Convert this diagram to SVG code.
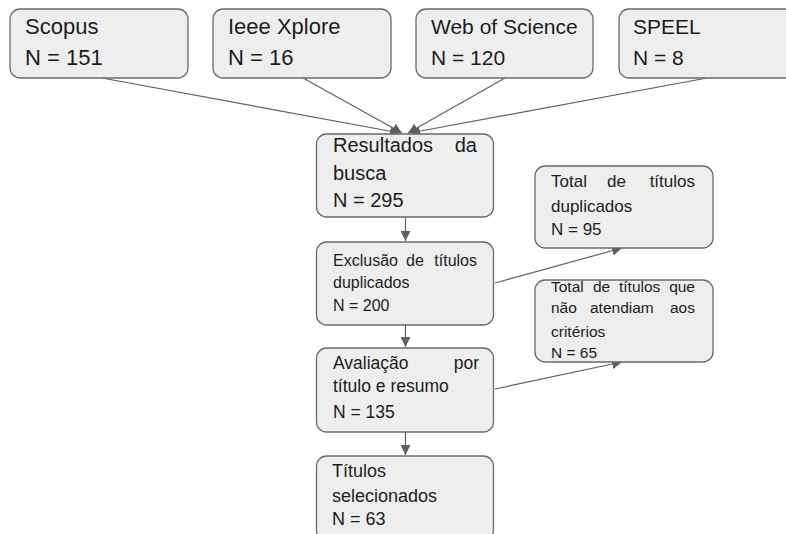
<svg xmlns="http://www.w3.org/2000/svg" width="786" height="534" viewBox="0 0 786 534">
<defs>
<style>
.box{fill:#eeeeee;stroke:#6a6a6a;stroke-width:1.3}
.t{font-family:"Liberation Sans",Arial,sans-serif;fill:#1c1c1c}
.edge{stroke:#5f5f5f;stroke-width:1.2;fill:none}
</style>
<marker id="ah" markerUnits="userSpaceOnUse" markerWidth="12" markerHeight="10" refX="10" refY="5" orient="auto">
<path d="M0,0 L10,5 L0,10 Z" fill="#5f5f5f"/>
</marker>
</defs>
<rect width="786" height="534" fill="#ffffff"/>
<g id="connectors">
<line class="edge" x1="102" y1="78" x2="400" y2="133" marker-end="url(#ah)"/>
<line class="edge" x1="303" y1="78" x2="402" y2="133" marker-end="url(#ah)"/>
<line class="edge" x1="505" y1="78" x2="408" y2="133" marker-end="url(#ah)"/>
<line class="edge" x1="707" y1="78" x2="410" y2="133" marker-end="url(#ah)"/>
<line class="edge" x1="405.5" y1="217" x2="405.5" y2="241" marker-end="url(#ah)"/>
<line class="edge" x1="405.5" y1="325" x2="405.5" y2="347" marker-end="url(#ah)"/>
<line class="edge" x1="405.5" y1="432" x2="405.5" y2="455" marker-end="url(#ah)"/>
<line class="edge" x1="495" y1="283" x2="622" y2="248" marker-end="url(#ah)"/>
<line class="edge" x1="495" y1="389" x2="622" y2="362" marker-end="url(#ah)"/>
</g>
<g id="scopus">
<rect class="box" x="10" y="9" width="178" height="69" rx="10"/>
<text class="t" font-size="22" x="25" y="34">Scopus</text>
<text class="t" font-size="22" x="25" y="65">N = 151</text>
</g>
<g id="ieee">
<rect class="box" x="213" y="9" width="178" height="69" rx="10"/>
<text class="t" font-size="22" x="228" y="34">Ieee Xplore</text>
<text class="t" font-size="22" x="228" y="65">N = 16</text>
</g>
<g id="wos">
<rect class="box" x="416" y="9" width="177" height="69" rx="10"/>
<text class="t" font-size="21" x="431" y="34">Web of Science</text>
<text class="t" font-size="21" x="431" y="65">N = 120</text>
</g>
<g id="speel">
<rect class="box" x="619" y="9" width="178" height="69" rx="10"/>
<text class="t" font-size="21" x="633" y="34">SPEEL</text>
<text class="t" font-size="21" x="633" y="65">N = 8</text>
</g>
<g id="resultados">
<rect class="box" x="316.5" y="134" width="177" height="83" rx="10"/>
<text class="t" font-size="20" x="333" y="152">Resultados</text>
<text class="t" font-size="20" x="477" y="152" text-anchor="end">da</text>
<text class="t" font-size="20" x="333" y="180">busca</text>
<text class="t" font-size="20" x="333" y="207">N = 295</text>
</g>
<g id="exclusao">
<rect class="box" x="316.5" y="242" width="177" height="83" rx="10"/>
<text class="t" font-size="16" x="333" y="266">Exclusão</text>
<text class="t" font-size="16" x="406" y="266">de</text>
<text class="t" font-size="16" x="477" y="266" text-anchor="end">títulos</text>
<text class="t" font-size="16" x="333" y="288">duplicados</text>
<text class="t" font-size="16" x="333" y="311">N = 200</text>
</g>
<g id="duplicados">
<rect class="box" x="535" y="166" width="178" height="82" rx="10"/>
<text class="t" font-size="17" x="551" y="187">Total</text>
<text class="t" font-size="17" x="607" y="187">de</text>
<text class="t" font-size="17" x="695" y="187" text-anchor="end">títulos</text>
<text class="t" font-size="17" x="551" y="212">duplicados</text>
<text class="t" font-size="17" x="551" y="235">N = 95</text>
</g>
<g id="criterios">
<rect class="box" x="535" y="280" width="178" height="82" rx="10"/>
<text class="t" font-size="15.5" x="551" y="292">Total</text>
<text class="t" font-size="15.5" x="593" y="292">de</text>
<text class="t" font-size="15.5" x="619" y="292">títulos</text>
<text class="t" font-size="15.5" x="695" y="292" text-anchor="end">que</text>
<text class="t" font-size="15.5" x="551" y="313">não</text>
<text class="t" font-size="15.5" x="590" y="313">atendiam</text>
<text class="t" font-size="15.5" x="695" y="313" text-anchor="end">aos</text>
<text class="t" font-size="15.5" x="551" y="337">critérios</text>
<text class="t" font-size="15.5" x="551" y="358">N = 65</text>
</g>
<g id="avaliacao">
<rect class="box" x="316.5" y="348" width="177" height="84" rx="10"/>
<text class="t" font-size="17.5" x="333" y="369">Avaliação</text>
<text class="t" font-size="17.5" x="479" y="369" text-anchor="end">por</text>
<text class="t" font-size="17.5" x="333" y="392">título e resumo</text>
<text class="t" font-size="17.5" x="333" y="418">N = 135</text>
</g>
<g id="selecionados">
<rect class="box" x="316.5" y="456" width="177" height="84" rx="10"/>
<text class="t" font-size="18" x="332" y="477">Títulos</text>
<text class="t" font-size="18" x="332" y="502">selecionados</text>
<text class="t" font-size="18" x="332" y="525">N = 63</text>
</g>
</svg>
